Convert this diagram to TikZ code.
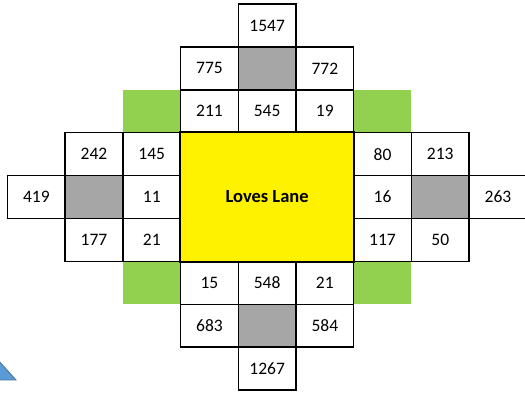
\documentclass[tikz,border=0pt]{standalone}
\usepackage{fontspec}
\setmainfont{Carlito}
\definecolor{cellgray}{HTML}{A6A6A6}
\definecolor{cellgreen}{HTML}{92D050}
\definecolor{triblue}{HTML}{5B9BD5}
\definecolor{triedge}{HTML}{41719C}
\begin{document}
\begin{tikzpicture}[x=57.7pt,y=-42.9pt,
  font=\fontsize{17.5}{20}\selectfont,
  cell/.style={draw=black,line width=1.5pt,minimum width=57.7pt,minimum height=42.9pt,inner sep=0pt,anchor=center,fill=white,text depth=-2pt},
  graycell/.style={cell,fill=cellgray},
  greencell/.style={draw=none,fill=cellgreen,minimum width=57.7pt,minimum height=42.9pt,inner sep=0pt,anchor=center},
  lane/.style={draw=black,line width=1.5pt,fill=yellow,minimum width=173.1pt,minimum height=128.7pt,inner sep=0pt,anchor=center,font=\fontsize{18.5}{22}\selectfont\bfseries}]
\useasboundingbox (-36.35pt,25.45pt) rectangle ++(525pt,-395pt);
% green corner cells
\node[greencell] (g1) at (2,2) {};
\node[greencell] (g2) at (6,2) {};
\node[greencell] (g3) at (2,6) {};
\node[greencell] (g4) at (6,6) {};
% centre
\node[lane] (lane) at (4,4) {Loves Lane};
% row 0
\node[cell] (c1547) at (4,0) {1547};
% row 1
\node[cell] (c775) at (3,1) {775};
\node[graycell] (gN) at (4,1) {};
\node[cell] (c772) at (5,1) {772};
% row 2
\node[cell] (c211) at (3,2) {211};
\node[cell] (c545) at (4,2) {545};
\node[cell] (c19) at (5,2) {19};
% row 3
\node[cell] (c242) at (1,3) {242};
\node[cell] (c145) at (2,3) {145};
\node[cell] (c80) at (6,3) {80};
\node[cell] (c213) at (7,3) {213};
% row 4
\node[cell] (c419) at (0,4) {419};
\node[graycell] (gW) at (1,4) {};
\node[cell] (c11) at (2,4) {11};
\node[cell] (c16) at (6,4) {16};
\node[graycell] (gE) at (7,4) {};
\node[cell] (c263) at (8,4) {263};
% row 5
\node[cell] (c177) at (1,5) {177};
\node[cell] (c21w) at (2,5) {21};
\node[cell] (c117) at (6,5) {117};
\node[cell] (c50) at (7,5) {50};
% row 6
\node[cell] (c15) at (3,6) {15};
\node[cell] (c548) at (4,6) {548};
\node[cell] (c21s) at (5,6) {21};
% row 7
\node[cell] (c683) at (3,7) {683};
\node[graycell] (gS) at (4,7) {};
\node[cell] (c584) at (5,7) {584};
% row 8
\node[cell] (c1267) at (4,8) {1267};
% redraw lane border on top
\draw[line width=1.5pt] (lane.north west) rectangle (lane.south east);
% partial blue triangle at bottom left
\draw[fill=triblue,draw=triedge,line width=0.8pt] (-56.35pt,-314.55pt) -- (-20.35pt,-354.55pt) -- (-92.35pt,-354.55pt) -- cycle;
\end{tikzpicture}
\end{document}
